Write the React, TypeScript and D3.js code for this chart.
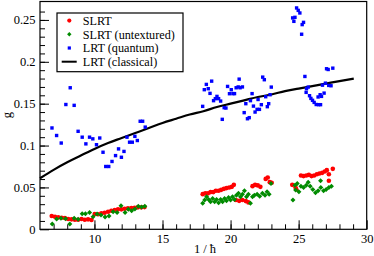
import React, { useEffect, useRef } from 'react'
import * as d3 from 'd3'

// SLRT (red circles)
const slrt: [number, number][] = [
  [6.86, 0.0158], [7.10, 0.015], [7.34, 0.0143], [7.59, 0.0138], [7.83, 0.0135], [8.07, 0.0123],
  [8.32, 0.0119], [8.56, 0.0114], [8.80, 0.0114], [9.05, 0.0123], [9.29, 0.0114], [9.53, 0.0119],
  [9.78, 0.0111], [10.02, 0.0182], [10.27, 0.0179], [10.51, 0.019], [10.75, 0.0198], [11.0, 0.021],
  [11.24, 0.0221], [11.49, 0.023], [11.73, 0.0238], [11.98, 0.0238], [12.22, 0.0245], [12.46, 0.025],
  [12.71, 0.0254], [12.95, 0.0257], [13.19, 0.0262], [13.44, 0.0262], [13.68, 0.0265],
  [17.95, 0.042], [18.14, 0.0429], [18.34, 0.0429], [18.53, 0.0444], [18.73, 0.0444], [18.92, 0.046],
  [19.12, 0.046], [19.31, 0.0471], [19.51, 0.0483], [19.70, 0.0492], [19.90, 0.05], [20.09, 0.0507],
  [20.24, 0.0531], [20.39, 0.0349], [20.63, 0.034], [20.87, 0.0349], [21.12, 0.0337], [21.31, 0.0321],
  [21.61, 0.0515], [21.80, 0.0531], [22.0, 0.0524], [22.19, 0.0507], [22.58, 0.0602], [22.73, 0.0619],
  [22.88, 0.0563], [23.02, 0.0555],
  [24.53, 0.0531], [24.77, 0.05], [24.83, 0.0477], [25.17, 0.0643], [25.36, 0.0635], [25.56, 0.0643],
  [25.75, 0.065], [25.95, 0.0635], [26.14, 0.0643], [26.34, 0.0658], [26.53, 0.0667], [26.73, 0.0674],
  [26.92, 0.069], [27.07, 0.0706], [27.22, 0.0658], [27.22, 0.0579], [27.51, 0.0722],
]

// SLRT (untextured) (green diamonds)
const slrtUntextured: [number, number][] = [
  [6.90, 0.0063], [7.22, 0.0123], [7.54, 0.0131], [7.88, 0.0126], [8.19, 0.0063], [8.51, 0.0131],
  [8.80, 0.0119], [9.10, 0.0186], [9.34, 0.0186], [9.64, 0.0202], [9.90, 0.015], [10.19, 0.0182],
  [10.48, 0.017], [10.78, 0.0146], [11.07, 0.0158], [11.37, 0.021], [11.66, 0.0202], [11.95, 0.0281],
  [12.25, 0.0202], [12.49, 0.0238], [12.73, 0.0221], [12.97, 0.0242], [13.22, 0.0274], [13.46, 0.0265],
  [13.70, 0.0274],
  [17.95, 0.031], [18.10, 0.0349], [18.24, 0.0388], [18.39, 0.0357], [18.53, 0.0329], [18.68, 0.0369],
  [18.83, 0.0329], [18.97, 0.0357], [19.12, 0.0317], [19.27, 0.0357], [19.41, 0.0329], [19.56, 0.0369],
  [19.70, 0.034], [19.85, 0.0381], [20.0, 0.0349], [20.14, 0.0388], [20.29, 0.0357], [20.43, 0.0408],
  [20.58, 0.0429], [20.73, 0.0388], [20.87, 0.042], [21.02, 0.046], [21.17, 0.0388], [21.31, 0.042],
  [21.46, 0.031], [21.61, 0.0388], [21.75, 0.0408], [21.95, 0.042], [22.14, 0.0396], [22.34, 0.0429],
  [22.53, 0.0408], [22.68, 0.0448], [22.83, 0.042], [22.97, 0.0548],
  [24.58, 0.0349], [24.73, 0.0527], [24.78, 0.0468], [24.90, 0.0548], [25.02, 0.0448], [25.17, 0.0515],
  [25.36, 0.05], [25.56, 0.0527], [25.70, 0.0563], [25.85, 0.0515], [26.04, 0.0476], [26.24, 0.0436],
  [26.43, 0.046], [26.61, 0.0579], [26.63, 0.05], [26.83, 0.046], [27.02, 0.0476], [27.22, 0.05],
  [27.41, 0.0515],
]

// LRT (quantum) (blue squares)
const lrtQuantum: [number, number][] = [
  [6.88, 0.121], [7.22, 0.112], [7.56, 0.103], [7.90, 0.149], [8.22, 0.169], [8.51, 0.148],
  [8.80, 0.117], [9.10, 0.110], [9.37, 0.102], [9.64, 0.110], [9.88, 0.108], [10.15, 0.101],
  [10.39, 0.109], [10.63, 0.092], [10.83, 0.075], [11.05, 0.075], [11.29, 0.081], [11.55, 0.088],
  [11.77, 0.096], [11.98, 0.086], [12.17, 0.093], [12.39, 0.110], [12.58, 0.104], [12.78, 0.104],
  [12.97, 0.111], [13.15, 0.106], [13.36, 0.129], [13.54, 0.129], [13.73, 0.122],
  [17.95, 0.1468], [18.07, 0.1667], [18.22, 0.173], [18.36, 0.1679], [18.49, 0.1623], [18.61, 0.1769],
  [18.75, 0.1536], [18.88, 0.156], [19.0, 0.1587], [19.12, 0.156], [19.27, 0.1531], [19.39, 0.1313],
  [19.53, 0.1452], [19.66, 0.1448], [19.78, 0.1706], [19.92, 0.1619], [20.05, 0.1667], [20.17, 0.162],
  [20.29, 0.162], [20.41, 0.169], [20.56, 0.17], [20.63, 0.1793], [20.70, 0.169], [20.87, 0.17],
  [21.0, 0.1393], [21.12, 0.15], [21.24, 0.132], [21.37, 0.1333], [21.46, 0.1536], [21.58, 0.162],
  [21.68, 0.1471], [21.8, 0.14], [21.95, 0.1432], [22.02, 0.155], [22.12, 0.1432], [22.26, 0.1488],
  [22.36, 0.1817], [22.48, 0.1786], [22.58, 0.1583], [22.7, 0.1464], [22.8, 0.15], [22.9, 0.1607],
  [22.99, 0.1698],
  [24.56, 0.2524], [24.65, 0.2483], [24.73, 0.2531], [24.85, 0.2643], [24.97, 0.2614], [25.09, 0.2583],
  [25.22, 0.2329], [25.26, 0.2444], [25.36, 0.2471], [25.46, 0.1825], [25.55, 0.1635], [25.58, 0.1679],
  [25.70, 0.1698], [25.80, 0.1595], [25.9, 0.1563], [26.02, 0.154], [26.14, 0.1515], [26.29, 0.149],
  [26.43, 0.158], [26.46, 0.1488], [26.58, 0.1607], [26.61, 0.1488], [26.68, 0.1587], [26.75, 0.1721],
  [26.87, 0.1626], [26.97, 0.1745], [27.05, 0.1917], [27.17, 0.1908], [27.21, 0.1718], [27.38, 0.1714],
  [27.51, 0.1924],
]

// LRT (classical) (black line)
const lrtClassical: [number, number][] = [
  [6, 0.061], [7, 0.071], [8, 0.08], [9, 0.088], [10, 0.096], [11, 0.103], [12, 0.109], [13, 0.115],
  [14, 0.121], [15, 0.127], [16, 0.132], [17, 0.137], [18, 0.141], [19, 0.146], [20, 0.15], [21, 0.154],
  [22, 0.158], [23, 0.161], [24, 0.165], [25, 0.168], [26, 0.171], [27, 0.174], [28, 0.177], [29.05, 0.18],
]

const xTicks = [10, 15, 20, 25, 30]
const yTicks = [0, 0.05, 0.1, 0.15, 0.2, 0.25]
const legendLabels = ['SLRT', 'SLRT (untextured)', 'LRT (quantum)', 'LRT (classical)']

const RED = '#ff0000'
const GREEN = '#008b00'
const BLUE = '#0000ff'

const App = () => {
  const ref = useRef<SVGSVGElement>(null)

  useEffect(() => {
    const svg = d3.select(ref.current)
    svg.selectAll('*').remove()

    const left = 40
    const right = 366.7
    const top = 1.5
    const bottom = 229.3
    const font = "'Liberation Serif', 'Times New Roman', serif"

    const x = d3.scaleLinear().domain([6, 30]).range([left, right])
    const y = d3.scaleLinear().domain([0, 0.272]).range([bottom, top])

    // minor ticks
    svg.append('g')
      .attr('transform', `translate(0,${bottom})`)
      .call(d3.axisBottom(x).tickValues(d3.range(7, 30, 1)).tickSize(-5).tickFormat(() => ''))
    svg.append('g')
      .attr('transform', `translate(${left},0)`)
      .call(d3.axisLeft(y).tickValues(d3.range(0.01, 0.27, 0.01)).tickSize(-5).tickFormat(() => ''))

    const xAxis = svg.append('g')
      .attr('transform', `translate(0,${bottom})`)
      .call(d3.axisBottom(x).tickValues(xTicks).tickSize(-9).tickPadding(5).tickFormat(d3.format('d')))
    const yAxis = svg.append('g')
      .attr('transform', `translate(${left},0)`)
      .call(d3.axisLeft(y).tickValues(yTicks).tickSize(-9).tickPadding(4.5).tickFormat((d) => String(d)))

    svg.selectAll('.domain').remove()
    svg.selectAll('.tick line').attr('stroke', '#000')
    ;[xAxis, yAxis].forEach((a) =>
      a.selectAll('text').style('font-family', font).style('font-size', '12.5px').attr('fill', '#000')
    )

    // frame
    svg.append('rect')
      .attr('x', left).attr('y', top)
      .attr('width', right - left).attr('height', bottom - top)
      .attr('fill', 'none').attr('stroke', '#000').attr('stroke-width', 1.2)

    // axis labels
    svg.append('text')
      .attr('x', 205).attr('y', 253)
      .attr('text-anchor', 'middle')
      .style('font-family', font).style('font-size', '12.5px')
      .text('1 / ħ')
    svg.append('text')
      .attr('transform', 'translate(11,115) rotate(-90)')
      .attr('text-anchor', 'middle')
      .style('font-family', font).style('font-size', '12.5px')
      .text('g')

    // classical line
    const line = d3.line<[number, number]>()
      .x((d) => x(d[0]))
      .y((d) => y(d[1]))
      .curve(d3.curveMonotoneX)
    svg.append('path')
      .datum(lrtClassical)
      .attr('d', line)
      .attr('fill', 'none')
      .attr('stroke', '#000')
      .attr('stroke-width', 2.2)

    const diamond = (cx: number, cy: number, s: number) =>
      `M${cx},${cy - s}L${cx + s},${cy}L${cx},${cy + s}L${cx - s},${cy}Z`

    svg.append('g').selectAll('rect')
      .data(lrtQuantum).enter().append('rect')
      .attr('x', (d) => x(d[0]) - 1.7)
      .attr('y', (d) => y(d[1]) - 1.7)
      .attr('width', 3.4).attr('height', 3.4)
      .attr('fill', BLUE)

    svg.append('g').selectAll('circle')
      .data(slrt).enter().append('circle')
      .attr('cx', (d) => x(d[0]))
      .attr('cy', (d) => y(d[1]))
      .attr('r', 2.3)
      .attr('fill', RED)

    svg.append('g').selectAll('path')
      .data(slrtUntextured).enter().append('path')
      .attr('d', (d) => diamond(x(d[0]), y(d[1]), 2.5))
      .attr('fill', GREEN)

    // legend
    const lg = svg.append('g')
    lg.append('rect')
      .attr('x', 57).attr('y', 13).attr('width', 126).attr('height', 58.7)
      .attr('fill', '#fff').attr('stroke', '#000').attr('stroke-width', 1.2)
    const rowY = (i: number) => 20.6 + i * 13.7
    lg.append('circle').attr('cx', 69.3).attr('cy', rowY(0)).attr('r', 2.1).attr('fill', RED)
    lg.append('path').attr('d', diamond(69.3, rowY(1), 2.2)).attr('fill', GREEN)
    lg.append('rect').attr('x', 69.3 - 1.6).attr('y', rowY(2) - 1.6).attr('width', 3.2).attr('height', 3.2).attr('fill', BLUE)
    lg.append('line').attr('x1', 61.7).attr('x2', 76.7).attr('y1', rowY(3)).attr('y2', rowY(3))
      .attr('stroke', '#000').attr('stroke-width', 2)
    lg.selectAll('text.lbl')
      .data(legendLabels).enter().append('text')
      .attr('x', 82.7)
      .attr('y', (_, i) => rowY(i) + 4.3)
      .style('font-family', font).style('font-size', '12.2px')
      .text((d) => d)
  }, [])

  return (
    <svg
      ref={ref}
      width={374}
      height={256}
      style={{ position: 'absolute', left: 0, top: 0, background: '#fff' }}
    />
  )
}

export default App
